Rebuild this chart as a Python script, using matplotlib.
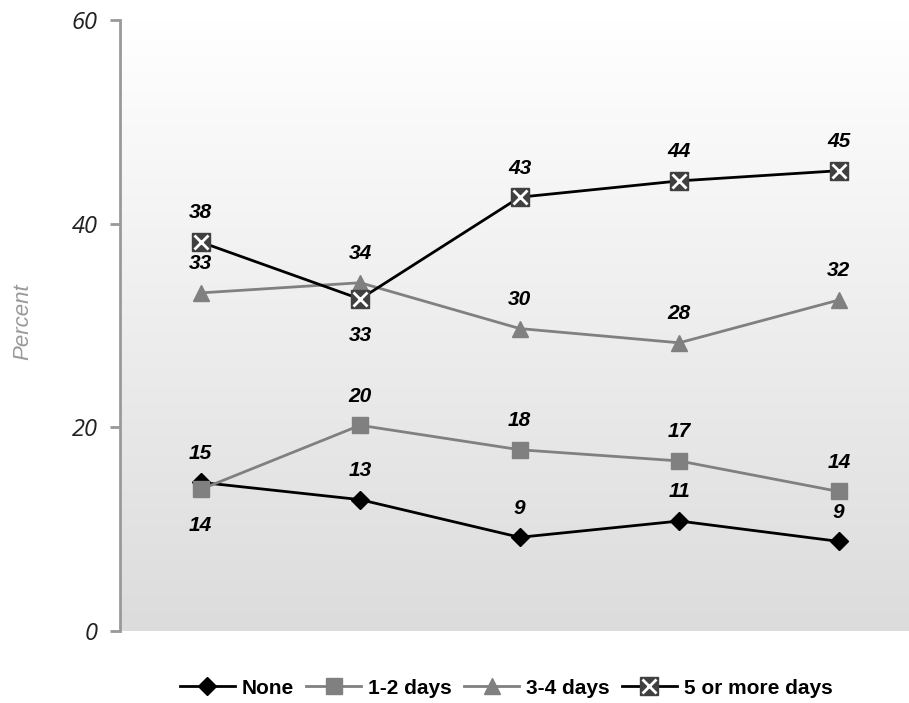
import numpy as np
import matplotlib
matplotlib.use("Agg")
import matplotlib.pyplot as plt
from matplotlib.lines import Line2D
from matplotlib.colors import LinearSegmentedColormap

categories = ["1", "2", "3", "4", "5"]
none_vals = [14.6, 12.9, 9.2, 10.8, 8.8]
none_labels = ["15", "13", "9", "11", "9"]
d12_vals = [13.9, 20.2, 17.8, 16.7, 13.7]
d12_labels = ["14", "20", "18", "17", "14"]
d34_vals = [33.2, 34.2, 29.7, 28.3, 32.5]
d34_labels = ["33", "34", "30", "28", "32"]
d5_vals = [38.2, 32.6, 42.6, 44.2, 45.2]
d5_labels = ["38", "33", "43", "44", "45"]
series_names = ["None", "1-2 days", "3-4 days", "5 or more days"]
yticks = [0, 20, 40, 60]

fig = plt.figure(figsize=(9.09, 7.03), dpi=100)
ax = fig.add_axes([120/909, 72/703, 789/909, 611/703])
x = np.arange(len(categories))

# gradient background
grad = np.linspace(0, 1, 256).reshape(-1, 1)
cmap = LinearSegmentedColormap.from_list("g", ["#ffffff", "#dcdcdc"])
ax.imshow(grad, aspect="auto", cmap=cmap, extent=[0, 1, 0, 1],
          transform=ax.transAxes, zorder=0)

ax.plot(x, none_vals, color="black", lw=2, marker="D", ms=9,
        mfc="black", mec="black", zorder=3)
ax.plot(x, d12_vals, color="#808080", lw=2, marker="s", ms=11,
        mfc="#808080", mec="#808080", zorder=3)
ax.plot(x, d34_vals, color="#808080", lw=2, marker="^", ms=12,
        mfc="#808080", mec="#808080", zorder=3)
ax.plot(x, d5_vals, color="black", lw=2, marker="s", ms=13,
        mfc="#404040", mec="#404040", zorder=4)
ax.plot(x, d5_vals, ls="none", marker="x", ms=10, mew=2,
        color="white", zorder=5)

def lab(vals, labels, below=()):
    for i, (v, t) in enumerate(zip(vals, labels)):
        dy = -26 if i in below else 21
        ax.annotate(t, (x[i], v), xytext=(0, dy), textcoords="offset points",
                    ha="center", va="center", fontsize=15,
                    fontweight="bold", fontstyle="italic",
                    family="Liberation Sans", zorder=6)

lab(none_vals, none_labels)
lab(d12_vals, d12_labels, below=(0,))
lab(d34_vals, d34_labels)
lab(d5_vals, d5_labels, below=(1,))

ax.set_xlim(-0.505, 4.44)
ax.set_ylim(0, 60)
ax.set_yticks(yticks)
ax.set_yticklabels([str(t) for t in yticks], fontstyle="italic",
                   fontsize=17, color="#222222", family="Open Sans")
ax.set_xticks([])
for s in ["top", "right", "bottom"]:
    ax.spines[s].set_visible(False)
ax.spines["left"].set_color("#999999")
ax.spines["left"].set_linewidth(2)
ax.tick_params(axis="y", length=7, width=2, color="#999999", pad=9)
fig.text(23/909, (703 - 322)/703, "Percent", rotation=90, ha="center",
         va="center", fontstyle="italic", fontsize=16, color="#999999",
         family="Liberation Sans")

handles = [
    Line2D([], [], color="black", lw=2, marker="D", ms=9),
    Line2D([], [], color="#808080", lw=2, marker="s", ms=11),
    Line2D([], [], color="#808080", lw=2, marker="^", ms=12),
    (Line2D([], [], color="black", lw=2, marker="s", ms=13, mfc="#404040", mec="#404040"),
     Line2D([], [], ls="none", marker="x", ms=10, mew=2, color="white")),
]
fig.legend(handles, series_names, loc="center", bbox_to_anchor=(0.557, 0.021),
           ncol=4, frameon=False, handlelength=2.64, handletextpad=0.34,
           columnspacing=0.58,
           prop={"family": "Liberation Sans", "weight": "bold", "size": 15})

fig.savefig("out.png", dpi=100)
